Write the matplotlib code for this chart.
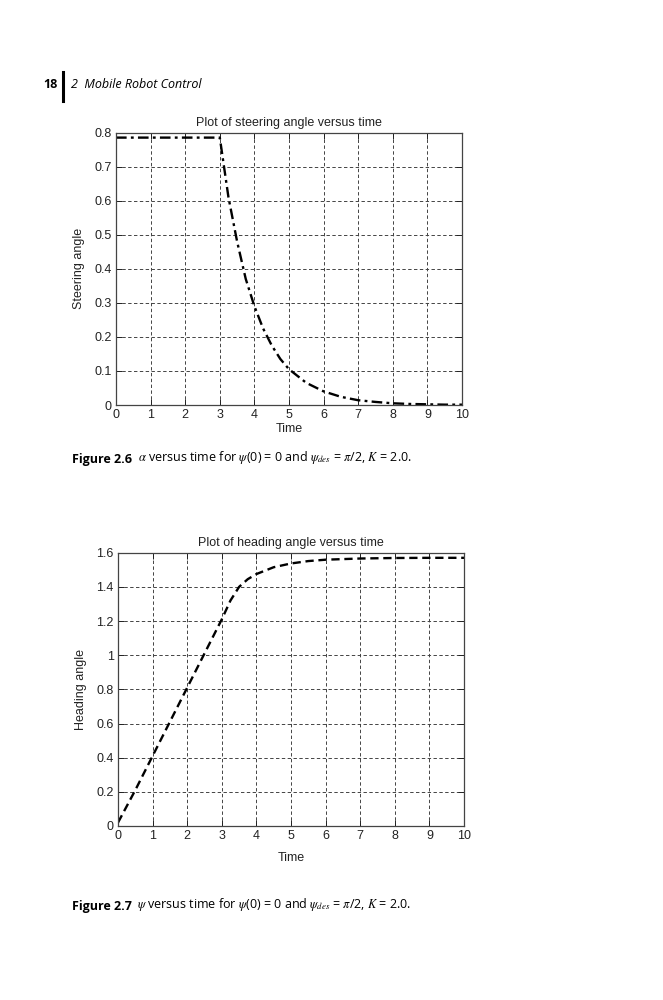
import numpy as np
import matplotlib
matplotlib.use("Agg")
import matplotlib.pyplot as plt

# values
t_steer = [0, 3, 3.25, 3.5, 3.75, 4, 4.25, 4.5, 4.75, 5, 5.5, 6, 6.5, 7, 7.5, 8, 8.5, 9, 9.5, 10]
alpha = [0.785, 0.785, 0.61, 0.48, 0.37, 0.29, 0.225, 0.175, 0.135, 0.105, 0.065,
         0.04, 0.024, 0.014, 0.009, 0.005, 0.003, 0.002, 0.001, 0.001]

t_head = [0, 0.5, 1, 1.5, 2, 2.5, 3, 3.25, 3.5, 3.75, 4, 4.5, 5, 5.5, 6, 7, 8, 9, 10]
psi = [0.02, 0.21, 0.41, 0.61, 0.81, 1.01, 1.21, 1.32, 1.40, 1.445, 1.475, 1.515,
       1.537, 1.551, 1.559, 1.566, 1.569, 1.570, 1.570]

x_ticks = list(range(11))
steer_ticks = [0, 0.1, 0.2, 0.3, 0.4, 0.5, 0.6, 0.7, 0.8]
steer_labels = ["0", "0.1", "0.2", "0.3", "0.4", "0.5", "0.6", "0.7", "0.8"]
head_ticks = [0, 0.2, 0.4, 0.6, 0.8, 1.0, 1.2, 1.4, 1.6]
head_labels = ["0", "0.2", "0.4", "0.6", "0.8", "1", "1.2", "1.4", "1.6"]

plt.rcParams["font.family"] = ["Liberation Sans", "DejaVu Sans"]
plt.rcParams["mathtext.fontset"] = "stix"

W, H = 663, 1000
fig = plt.figure(figsize=(W / 100, H / 100), dpi=100)


def setup(ax, yticks, ylabels, ylim, title, ylabel, xpad):
    ax.set_xlim(0, 10)
    ax.set_ylim(*ylim)
    ax.set_xticks(x_ticks)
    ax.set_xticklabels([str(v) for v in x_ticks])
    ax.set_yticks(yticks)
    ax.set_yticklabels(ylabels)
    ax.tick_params(direction="in", top=True, right=True, length=4, width=0.7,
                   labelsize=9, pad=3, colors="#222222")
    ax.grid(True, color="#444444", linestyle=(0, (3.5, 2.5)), linewidth=0.7)
    for s in ax.spines.values():
        s.set_color("#444444")
        s.set_linewidth(0.9)
    ax.set_title(title, fontsize=9, pad=5, color="#222222")
    ax.set_xlabel("Time", fontsize=9, labelpad=xpad, color="#222222")
    ax.set_ylabel(ylabel, fontsize=9, labelpad=7, color="#222222")


ax1 = fig.add_axes([116 / W, 1 - 405 / H, 346 / W, 272.5 / H])
ax1.plot(t_steer, alpha, color="black", linewidth=1.7, dashes=(4.5, 1.8, 1.2, 1.8))
setup(ax1, steer_ticks, steer_labels, (0, 0.8),
      "Plot of steering angle versus time", "Steering angle", 1)

ax2 = fig.add_axes([118 / W, 1 - 826 / H, 346 / W, 273.3 / H])
ax2.plot(t_head, psi, color="black", linewidth=1.7, dashes=(3.5, 2))
setup(ax2, head_ticks, head_labels, (0, 1.6),
      "Plot of heading angle versus time", "Heading angle", 7)

# page overlay in pixel coordinates
page = fig.add_axes([0, 0, 1, 1], zorder=-1)
page.set_xlim(0, W)
page.set_ylim(H, 0)
page.axis("off")

cap_font = ["Open Sans", "DejaVu Sans"]
page.text(58, 84, "18", fontsize=9, fontweight="bold", ha="right", va="center",
          family=cap_font)
page.plot([63, 63], [72, 101], color="black", linewidth=2.2)
page.text(71, 84, "2  Mobile Robot Control", fontsize=9, style="italic",
          ha="left", va="center", family=cap_font)


def caption(y, label, rest):
    t = page.text(72, y, label, fontsize=9, fontweight="bold", ha="left",
                  va="baseline", family=cap_font)
    page.annotate(rest, xy=(1, 0), xycoords=t, xytext=(4, 0),
                  textcoords="offset points", fontsize=9, ha="left",
                  va="bottom", family=cap_font, annotation_clip=False)


caption(463, "Figure 2.6",
        r"$\alpha$ versus time for $\psi$(0) = 0 and $\psi_{des}$ = $\pi$/2, $K$ = 2.0.")
caption(910, "Figure 2.7",
        r"$\psi$ versus time for $\psi$(0) = 0 and $\psi_{des}$ = $\pi$/2, $K$ = 2.0.")

fig.savefig("out.png", dpi=100)
